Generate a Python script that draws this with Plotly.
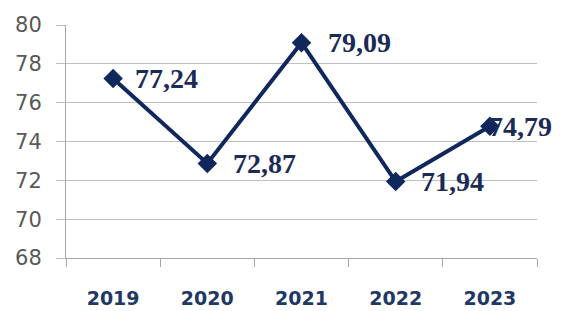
import plotly.graph_objects as go

years = ["2019", "2020", "2021", "2022", "2023"]
values = [77.24, 72.87, 79.09, 71.94, 74.79]
y_ticks = [68, 70, 72, 74, 76, 78, 80]

labels = [f"{v:.2f}".replace(".", ",") for v in values]
label_shift = [20, 24, 24, 23, -3]
navy = "#10275e"

fig = go.Figure()
fig.add_trace(go.Scatter(
    x=years, y=values, mode="lines+markers",
    line=dict(color=navy, width=4),
    marker=dict(symbol="diamond", size=15, color=navy),
    cliponaxis=False,
))
for i, (v, t, s) in enumerate(zip(values, labels, label_shift)):
    fig.add_annotation(
        x=i, y=v, xref="x", yref="y", text=t, showarrow=False,
        xanchor="left", yanchor="middle", xshift=s,
        font=dict(family="Liberation Serif", size=28, color="#1b2b57", weight="bold"),
    )
fig.update_layout(
    width=553, height=303,
    margin=dict(l=58, r=24, t=17, b=53, autoexpand=False),
    plot_bgcolor="white", paper_bgcolor="white",
    showlegend=False,
)
fig.update_xaxes(
    type="category", range=[-0.5, 4.5], automargin=False,
    showgrid=False, showline=True, linecolor="#a6a6a6", linewidth=1,
    ticks="outside", tickson="boundaries", ticklen=8, tickcolor="#a6a6a6",
    ticklabelstandoff=23,
    tickfont=dict(family="DejaVu Sans", size=19, color="#1f3864", weight="bold"),
)
fig.update_yaxes(
    range=[68, 80], tickvals=y_ticks, automargin=False,
    showgrid=True, gridcolor="#bfbfbf", gridwidth=1,
    showline=True, linecolor="#a6a6a6", linewidth=1,
    ticks="outside", ticklen=9, tickcolor="#bfbfbf",
    ticklabelstandoff=10,
    tickfont=dict(family="DejaVu Sans", size=21, color="#595959"),
    zeroline=False,
)
fig.write_html("out.html")
